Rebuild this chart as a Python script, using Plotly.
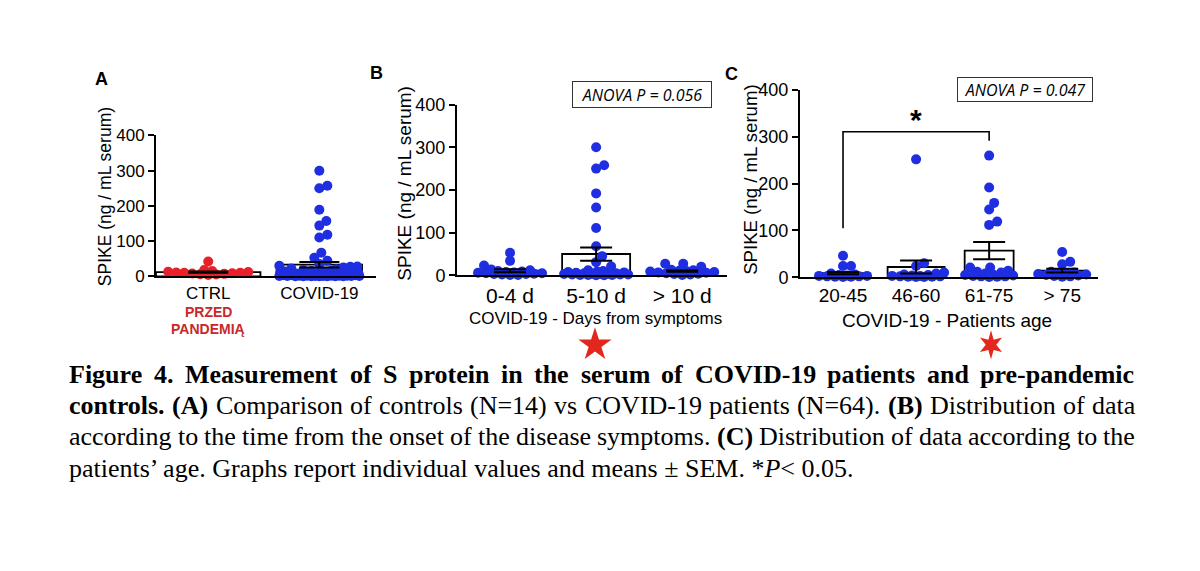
import math
import plotly.graph_objects as go

# ---------------- data ----------------
# Panel A
a_groups = ["CTRL", "COVID-19"]
a_ctrl = [42, 15, 18, 10, 12, 8, 6, 9, 11, 5, 7, 13, 4, 10]
a_covid = [300, 257, 250, 189, 157, 144, 118, 110, 67, 53, 44,
           35, 30, 28, 27, 25, 22, 20, 18, 16, 15, 14, 13, 12, 11, 10, 10,
           9, 9, 8, 8, 7, 7, 6, 6, 6, 5, 5, 5, 4, 4, 4, 3, 3, 3, 3,
           2, 2, 2, 2, 2, 1, 1, 1, 1, 1, 1, 0.5, 0.5, 0.5, 0.5, 0.5, 0.5, 0.5]
a_mean = [12, 33]
a_sem = [2, 8]

# Panel B
b_groups = ["0-4 d", "5-10 d", "> 10 d"]
b_d04 = [53, 34, 23, 14, 12, 10, 9, 8, 7, 6, 5, 5, 4, 3, 3, 2, 1, 1]
b_d510 = [300, 258, 250, 192, 159, 111, 68, 45, 31, 21, 12, 10, 9, 8, 7, 6, 5, 5,
          4, 4, 3, 3, 2, 2, 2, 1, 1, 1, 0.5, 0.5]
b_d10 = [27, 27, 20, 13, 12, 11, 10, 9, 8, 7, 6, 5, 4, 3, 2, 1]
b_mean = [11, 50, 10]
b_sem = [3.5, 15.5, 1.5]

# Panel C
c_groups = ["20-45", "46-60", "61-75", "> 75"]
c_2045 = [46, 24, 24, 8, 6, 5, 4, 3, 3, 2, 2, 1, 1, 0.5]
c_4660 = [252, 30, 24, 10, 8, 6, 5, 4, 3, 3, 2, 2, 1, 1, 0.5, 0.5]
c_6175 = [260, 192, 159, 145, 119, 112, 21, 21, 14, 12, 10, 8, 6, 5, 4, 3, 2, 2, 1, 0.5]
c_75 = [54, 33, 28, 12, 10, 9, 8, 7, 6, 5, 4, 3, 2, 1]
c_mean = [9, 22, 57, 14]
c_sem = [2.5, 14, 18.5, 4]

y_ticks = [0, 100, 200, 300, 400]
anova_b = "ANOVA P = 0.056"
anova_c = "ANOVA P = 0.047"
bracket_groups = [0, 2]          # 20-45 vs 61-75
bracket_levels = [105, 311, 292]  # left foot, top, right foot
bracket_label = "*"

# caption: list of lines, each a list of (word, style) ; style r=regular b=bold
cap_lines = [
    [(w, "b") for w in "Figure 4. Measurement of S protein in the serum of COVID-19 patients and pre-pandemic".split()],
    [("controls.", "b"), ("(A)", "b")] + [(w, "r") for w in "Comparison of controls (N=14) vs COVID-19 patients (N=64).".split()]
    + [("(B)", "b")] + [(w, "r") for w in "Distribution of data".split()],
    [(w, "r") for w in "according to the time from the onset of the disease symptoms.".split()]
    + [("(C)", "b")] + [(w, "r") for w in "Distribution of data according to the".split()],
]
cap_last = "patients’ age. Graphs report individual values and means ± SEM. *<i>P</i>< 0.05."

W, H = 1200, 571
BLUE = "#1f2ee0"
RED = "#e8202a"
STAR_RED = "#e3261e"
FONT = "Liberation Sans"
SERIF = "Liberation Serif"
CAP_SIZE = 26

# Times metrics (1/1000 em) for word-width estimation (justification)
_reg = dict(zip("abcdefghijklmnopqrstuvwxyz",
                [444, 500, 444, 500, 444, 333, 500, 500, 278, 278, 500, 278, 778, 500, 500, 500, 500, 333, 389, 278, 500, 500, 722, 500, 500, 444]))
_reg.update(zip("ABCDEFGHIJKLMNOPQRSTUVWXYZ",
                [722, 667, 667, 722, 611, 556, 722, 722, 333, 389, 722, 611, 889, 722, 722, 556, 722, 667, 556, 611, 722, 722, 944, 722, 722, 611]))
_bold = dict(zip("abcdefghijklmnopqrstuvwxyz",
                 [500, 556, 444, 556, 444, 333, 500, 556, 278, 333, 556, 278, 833, 556, 500, 556, 556, 444, 389, 333, 556, 500, 722, 500, 500, 444]))
_bold.update(zip("ABCDEFGHIJKLMNOPQRSTUVWXYZ",
                 [722, 667, 722, 722, 667, 611, 778, 778, 389, 500, 778, 667, 944, 722, 778, 611, 778, 722, 556, 667, 722, 722, 1000, 722, 722, 667]))
_punct = {".": 250, ",": 250, "(": 333, ")": 333, "-": 333, "=": 564, " ": 250}
for ch in "0123456789":
    _reg[ch] = 500
    _bold[ch] = 500


def word_w(word, style):
    tab = _bold if style == "b" else _reg
    return sum(tab.get(c, _punct.get(c, 500)) for c in word) / 1000 * CAP_SIZE


def px(x):
    return x / W


def py(y):
    return 1 - y / H


def swarm(values, center, px_x, px_y, dist, max_half):
    n = len(values)
    order = sorted(range(n), key=lambda i: values[i])
    placed = []
    xs = [0.0] * n
    for i in order:
        y = values[i] * px_y
        best, best_d = 0, -1
        chosen = None
        for k in range(0, int(max_half) + 1):
            for s in ([0] if k == 0 else [k, -k]):
                md = min([((s - p[0]) ** 2 + (y - p[1]) ** 2) ** 0.5 for p in placed] or [1e9])
                if md >= dist:
                    chosen = s
                    break
                if md > best_d:
                    best_d, best = md, s
            if chosen is not None:
                break
        if chosen is None:
            chosen = best
        placed.append((chosen, y))
        xs[i] = center + chosen / px_x
    return xs


# panel geometry (pixels)
panels = {
    "A": dict(x0=156, x1=376, y0=276, y1=130, xr=[-0.47, 1.51]),
    "B": dict(x0=457, x1=727, y0=275, y1=98, xr=[-0.616, 2.52]),
    "C": dict(x0=800, x1=1098, y0=277, y1=83, xr=[-0.589, 3.49]),
}
for p in panels.values():
    p["pxx"] = (p["x1"] - p["x0"]) / (p["xr"][1] - p["xr"][0])
    p["pxy"] = (p["y0"] - p["y1"]) / 400

fig = go.Figure()


def add_panel(key, axis_suffix, groups, data, colors, means, sems, widths, cap, dist, maxhalf):
    p = panels[key]
    xa, ya = "x" + axis_suffix, "y" + axis_suffix
    fig.add_trace(go.Bar(x=list(range(len(groups))), y=means, width=widths,
                         marker=dict(color="white", line=dict(color="black", width=1.8)),
                         xaxis=xa, yaxis=ya, hoverinfo="skip"))
    for gi, (vals, col) in enumerate(zip(data, colors)):
        xs = swarm(vals, gi, p["pxx"], p["pxy"], dist, maxhalf[gi])
        fig.add_trace(go.Scatter(x=xs, y=vals, mode="markers",
                                 marker=dict(size=10, color=col, opacity=1, line=dict(width=0)),
                                 cliponaxis=False, xaxis=xa, yaxis=ya))
    fig.add_trace(go.Scatter(x=list(range(len(groups))), y=means, mode="markers",
                             marker=dict(size=1, opacity=0),
                             error_y=dict(type="data", array=sems, color="black",
                                          thickness=2, width=cap, visible=True),
                             cliponaxis=False, xaxis=xa, yaxis=ya))


add_panel("A", "", a_groups, [a_ctrl, a_covid], [RED, BLUE], a_mean, a_sem,
          [0.94, 0.77], 20, 8, [42, 40])
add_panel("B", "2", b_groups, [b_d04, b_d510, b_d10], [BLUE] * 3, b_mean, b_sem,
          [0.79, 0.79, 0.79], 16, 8, [34, 34, 34])
add_panel("C", "3", c_groups, [c_2045, c_4660, c_6175, c_75], [BLUE] * 4, c_mean, c_sem,
          [0.67, 0.78, 0.67, 0.67], 16, 8, [26, 28, 26, 26])

# bracket in panel C
fig.add_trace(go.Scatter(x=[bracket_groups[0], bracket_groups[0], bracket_groups[1], bracket_groups[1]],
                         y=[bracket_levels[0], bracket_levels[1], bracket_levels[1], bracket_levels[2]],
                         mode="lines", line=dict(color="black", width=1.6),
                         cliponaxis=False, xaxis="x3", yaxis="y3"))
fig.add_annotation(x=sum(bracket_groups) / 2, y=bracket_levels[1], xref="x3", yref="y3",
                   text="<b>" + bracket_label + "</b>", showarrow=False, yanchor="bottom",
                   yshift=-6, font=dict(family=FONT, size=30, color="black"))

# decorative red 5-point star below panel B (overlay axis in page pixels)
fig.add_trace(go.Scatter(x=[595], y=[347], mode="markers",
                         marker=dict(symbol="star", size=25, opacity=1,
                                     color=STAR_RED, line=dict(width=0)),
                         cliponaxis=False, xaxis="x4", yaxis="y4", hoverinfo="skip"))


def star_path(cx, cy, n, r_out, r_in):
    pts = []
    for k in range(2 * n):
        r = r_out if k % 2 == 0 else r_in
        a = -math.pi / 2 + k * math.pi / n
        pts.append((cx + r * math.cos(a) * 0.85, cy + r * math.sin(a)))
    return "M " + " L ".join(f"{x:.2f},{y:.2f}" for x, y in pts) + " Z"


# decorative red 6-point star below panel C
fig.add_shape(type="path", path=star_path(991, 347, 6, 15, 6.2), xref="x4", yref="y4",
              fillcolor=STAR_RED, line=dict(width=0), layer="above")


def axis_cfg(key, groups, xfont, yfont):
    p = panels[key]
    xa = dict(domain=[px(p["x0"]), px(p["x1"])], range=p["xr"], tickmode="array",
              tickvals=list(range(len(groups))), ticktext=groups, showline=True,
              linecolor="black", linewidth=2, ticks="", showgrid=False, zeroline=False,
              tickfont=dict(family=FONT, size=xfont, color="black"), fixedrange=True)
    ya = dict(domain=[py(p["y0"]), py(p["y1"])], range=[0, 400], tickmode="array",
              tickvals=y_ticks, showline=True, linecolor="black", linewidth=2,
              ticks="outside", ticklen=6, tickwidth=2, tickcolor="black",
              showgrid=False, zeroline=False,
              tickfont=dict(family=FONT, size=yfont, color="black"), fixedrange=True)
    return xa, ya


xa1, ya1 = axis_cfg("A", a_groups, 17, 17)
xa2, ya2 = axis_cfg("B", b_groups, 21, 18)
xa3, ya3 = axis_cfg("C", c_groups, 19, 18)
ya1["anchor"] = "x"
xa1["anchor"] = "y"
ya2["anchor"] = "x2"
xa2["anchor"] = "y2"
ya3["anchor"] = "x3"
xa3["anchor"] = "y3"
xa4 = dict(domain=[0, 1], range=[0, W], visible=False, fixedrange=True, anchor="y4")
ya4 = dict(domain=[0, 1], range=[H, 0], visible=False, fixedrange=True, anchor="x4")

fig.update_layout(width=W, height=H, margin=dict(l=0, r=0, t=0, b=0),
                  paper_bgcolor="white", plot_bgcolor="rgba(0,0,0,0)", showlegend=False,
                  bargap=0, xaxis=xa1, yaxis=ya1, xaxis2=xa2, yaxis2=ya2,
                  xaxis3=xa3, yaxis3=ya3, xaxis4=xa4, yaxis4=ya4)


def ann(x, y, text, size, family=FONT, color="black", angle=0, xanchor="center", **kw):
    fig.add_annotation(x=px(x), y=py(y), xref="paper", yref="paper", text=text,
                       showarrow=False, xanchor=xanchor, yanchor="middle", textangle=angle,
                       font=dict(family=family, size=size, color=color), **kw)


# panel letters
ann(101, 71, "<b>A</b>", 18)
ann(376, 65, "<b>B</b>", 18)
ann(731, 66, "<b>C</b>", 18)

# y titles
ann(105, 194, "SPIKE (ng / mL serum)", 17.5, angle=-90)
ann(405, 180, "SPIKE (ng / mL serum)", 19, angle=-90)
ann(751, 176, "SPIKE (ng / mL serum)", 18.6, angle=-90)

# x titles
ann(595, 320, "COVID-19 - Days from symptoms", 17)
ann(947, 322, "COVID-19 - Patients age", 19)

# PRZED PANDEMIA
ann(208, 313, "<b>PRZED</b>", 14, color="#c8282a")
ann(208, 331, "<b>PANDEMIĄ</b>", 14, color="#c8282a")

# ANOVA boxes
ann(642, 87.5, "<i>" + anova_b + "</i>", 16, family="Open Sans",
    bordercolor="#333333", borderwidth=1, borderpad=2, bgcolor="white", width=134, height=21)
ann(1025, 82, "<i>" + anova_c + "</i>", 16, family="Open Sans",
    bordercolor="#333333", borderwidth=1, borderpad=2, bgcolor="white", width=130, height=19)

# caption (justified lines built word by word)
CAP_L, CAP_R = 67, 1133
cap_y = [378, 410, 442, 475]
for words, yy in zip(cap_lines, cap_y):
    widths = [word_w(w, s) for w, s in words]
    gap = (CAP_R - CAP_L - sum(widths)) / (len(words) - 1)
    xcur = CAP_L
    for (w, s), ww in zip(words, widths):
        txt = "<b>" + w + "</b>" if s == "b" else w
        ann(xcur, yy, txt, CAP_SIZE, family=SERIF, xanchor="left")
        xcur += ww + gap
ann(CAP_L, cap_y[3], cap_last, CAP_SIZE, family=SERIF, xanchor="left")

fig.write_html("out.html", config={"displayModeBar": False, "staticPlot": True},
               post_script="document.body.style.margin='0px';document.body.style.overflow='hidden';")
